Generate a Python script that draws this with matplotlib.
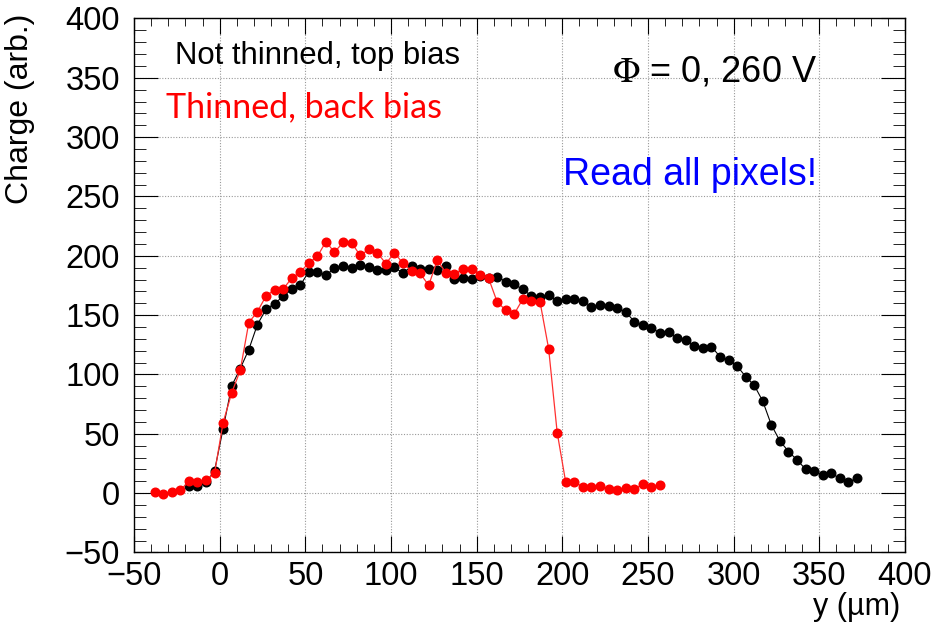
import matplotlib

matplotlib.use("Agg")

import matplotlib.pyplot as plt
from matplotlib.ticker import MultipleLocator

# not thinned, top bias
x_top = [-18, -13, -8, -3, 2, 7, 12, 17, 22, 27, 32, 37, 42, 47, 52, 57, 62, 67,
         72, 77, 82, 87, 92, 97, 102, 107, 112, 117, 122, 127, 132, 137, 142, 147,
         152, 157, 162, 167, 172, 177, 182, 187, 192, 197, 202, 207, 212, 217, 222,
         227, 232, 237, 242, 247, 252, 257, 262, 267, 272, 277, 282, 287, 292, 297,
         302, 307, 312, 317, 322, 327, 332, 337, 342, 347, 352, 357, 362, 367, 372]
q_top = [6, 6, 9, 18.8, 54.4, 90.3, 105, 121, 142, 154.9, 159.7, 165.8, 171.7, 175.1,
         186.6, 186.6, 183.8, 189.4, 191.3, 190, 192.2, 190.5, 187.7, 187.7, 190.5,
         185.2, 191.3, 189.1, 189.1, 188, 191.3, 180.7, 181.6, 180.7, 182.9, 181.2,
         182.4, 178.2, 175.9, 171.7, 166.1, 165.6, 166.7, 161.9, 163.3, 163.3, 161.9,
         157.2, 158.2, 157.7, 155.7, 152.9, 144.5, 141.7, 138.9, 135.3, 136.1, 130.5,
         129.1, 124, 122.6, 123.5, 115.1, 112, 107.2, 98.2, 90.9, 77.5, 57.5, 44,
         35.1, 28, 20.2, 18.5, 15.2, 16.8, 12.4, 9.5, 12.4]

# thinned, back bias
x_back = [-38, -33, -28, -23, -18, -13, -8, -3, 2, 7, 12, 17, 22, 27, 32, 37, 42, 47,
          52, 57, 62, 67, 72, 77, 82, 87, 92, 97, 102, 107, 112, 117, 122, 127, 132,
          137, 142, 147, 152, 157, 162, 167, 172, 177, 182, 187, 192, 197, 202, 207,
          212, 217, 222, 227, 232, 237, 242, 247, 252, 257]
q_back = [0.6, -0.6, 0.6, 2.3, 10.1, 9.5, 10.7, 16.8, 59.5, 84.4, 103.5, 143.7, 152.9,
          166, 171.5, 172, 181, 186.3, 193.9, 199.5, 211.9, 203, 211.3, 211, 200.3,
          205.4, 202.6, 193.4, 202.6, 193.6, 187.1, 185.2, 175.1, 196.4, 185.8, 184.3,
          189.1, 189.1, 183.7, 180.9, 161, 154.2, 151.2, 163.8, 161.9, 161, 121.8,
          51.1, 9, 9, 5.6, 5.6, 6, 3.4, 2.5, 4, 3.4, 7.6, 5.6, 6.7]

plt.rcParams["font.family"] = ["Liberation Sans", "DejaVu Sans"]
plt.rcParams["mathtext.fontset"] = "stix"

fig = plt.figure(figsize=(9.32, 6.24), dpi=100)
ax = fig.add_axes([0.1438, 0.1146, 0.971 - 0.1438, 0.9704 - 0.1146])

ax.plot(x_top, q_top, color="black", lw=0.8, marker="o", ms=6.2, mec="black", zorder=3)
ax.plot(x_back, q_back, color="#ff3030", lw=0.9, marker="o", ms=6.2, mfc="red", mec="red", zorder=4)

ax.set_xlim(-50, 400)
ax.set_ylim(-50, 400)
ax.xaxis.set_major_locator(MultipleLocator(50))
ax.xaxis.set_minor_locator(MultipleLocator(10))
ax.yaxis.set_major_locator(MultipleLocator(50))
ax.yaxis.set_minor_locator(MultipleLocator(10))
ax.grid(True, which="major", color="#999999", ls=(0, (1, 1.5)), lw=0.8)
ax.tick_params(axis="x", which="both", direction="in", top=True, labelsize=23.5, pad=6)
ax.tick_params(axis="y", which="both", direction="in", right=True, labelsize=23.5, pad=10)
ax.tick_params(axis="x", which="major", length=11.5)
ax.tick_params(axis="x", which="minor", length=5.8)
ax.tick_params(axis="y", which="major", length=17)
ax.tick_params(axis="y", which="minor", length=8.6)
for s in ax.spines.values():
    s.set_linewidth(1.0)

fig.text(0.0215, 0.978, "Charge (arb.)", rotation=90, ha="center", va="top", fontsize=23)
fig.text(0.966, 0.028, "y (µm)", ha="right", va="center", fontsize=22)

fig.text(175 / 932, 1 - 56 / 624, "Not thinned, top bias", ha="left", va="center", fontsize=22.4)
fig.text(166 / 932, 1 - 107 / 624, "Thinned, back bias", ha="left", va="center",
         fontsize=24.5, color="red", family=["Lato", "DejaVu Sans"])
fig.text(817 / 932, 1 - 72 / 624, r"$\Phi$ = 0, 260 V", ha="right", va="center", fontsize=26)
fig.text(817 / 932, 1 - 175 / 624, "Read all pixels!", ha="right", va="center",
         fontsize=27, color="blue")

fig.savefig("out.png", dpi=100)
plt.close(fig)
